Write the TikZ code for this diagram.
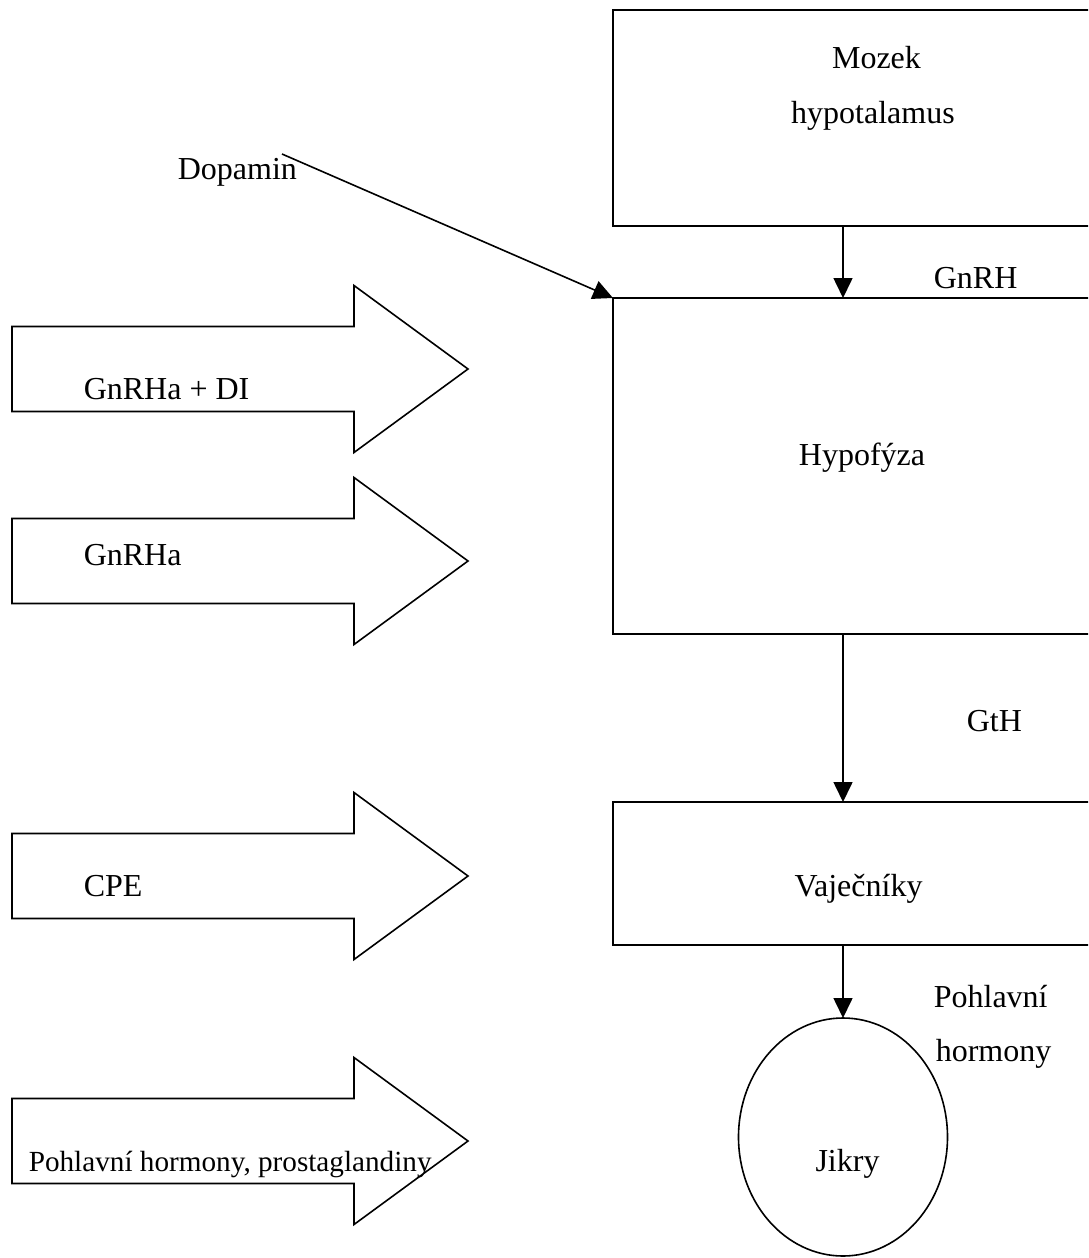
\documentclass[tikz,border=0pt]{standalone}
\usepackage{fontspec}
\setmainfont{Liberation Serif}
\usetikzlibrary{arrows.meta,shapes.geometric}
\newcommand\hormarrow[1]{%
  \draw[bigarr] (12,{#1-42.5}) -- (354,{#1-42.5}) -- (354,{#1-83.5}) -- (468,#1)
    -- (354,{#1+83.5}) -- (354,{#1+42.5}) -- (12,{#1+42.5}) -- cycle;}
\begin{document}
\begin{tikzpicture}[x=0.5pt,y=-0.5pt,line width=0.8pt,
  box/.style={draw,rectangle,anchor=north west,inner sep=0pt,outer sep=0pt},
  egg/.style={draw,ellipse,inner sep=0pt,outer sep=0pt,minimum width=104.5pt,minimum height=119pt},
  conn/.style={-{Triangle[length=10pt,width=9.5pt]}},
  lbl/.style={inner sep=0pt,font=\fontsize{16}{19}\selectfont},
  lblw/.style={lbl,anchor=base west},
  lblc/.style={lbl,anchor=base},
  smalllbl/.style={inner sep=0pt,anchor=base west,font=\fontsize{14.6}{17}\selectfont},
  bigarr/.style={draw,line join=miter}]
\useasboundingbox (0,0) rectangle (1088,1258);
\clip (0,0) rectangle (1088,1258);

% boxes
\node[box,minimum width=243.5pt,minimum height=108pt] (mozek) at (613,10) {};
\node[box,minimum width=243.5pt,minimum height=168pt] (hypo) at (613,298) {};
\node[box,minimum width=243.5pt,minimum height=71.5pt] (vaj) at (613,802) {};
\node[egg] (jikry) at (843,1137) {};
\coordinate (axis) at (843,0);
\coordinate (dopstart) at (282,154);

% texts in boxes
\node[lblc] (tmozek) at (876.5,68) {Mozek};
\node[lblc] (thypot) at (873,123) {hypotalamus};
\node[lblc] (thypo) at (862,465) {Hypofýza};
\node[lblc] (tvaj) at (858.5,896) {Vaječníky};
\node[lblc] (tjik) at (847.5,1171) {Jikry};

% connectors
\draw[conn] (mozek.south -| axis) -- (hypo.north -| axis);
\draw[conn] (hypo.south -| axis) -- (vaj.north -| axis);
\draw[conn] (vaj.south -| axis) -- (jikry.north);
\draw[conn] (dopstart) -- (hypo.north west);

% connector labels
\node[lblw] (tgnrh) at (933,288) {GnRH};
\node[lblw] (tgth) at (966,731) {GtH};
\node[lblw] (tpoh1) at (933,1007) {Pohlavní};
\node[lblw] (tpoh2) at (935,1061) {hormony};
\node[lblw] (tdop) at (177,179) {Dopamin};

% big arrows
\hormarrow{369}
\hormarrow{561}
\hormarrow{876}
\hormarrow{1141}
\node[lblw] (ta1) at (83,399) {GnRHa + DI};
\node[lblw] (ta2) at (83,565) {GnRHa};
\node[lblw] (ta3) at (83,896) {CPE};
\node[smalllbl] (ta4) at (28,1171) {Pohlavní hormony, prostaglandiny};
\end{tikzpicture}
\end{document}
